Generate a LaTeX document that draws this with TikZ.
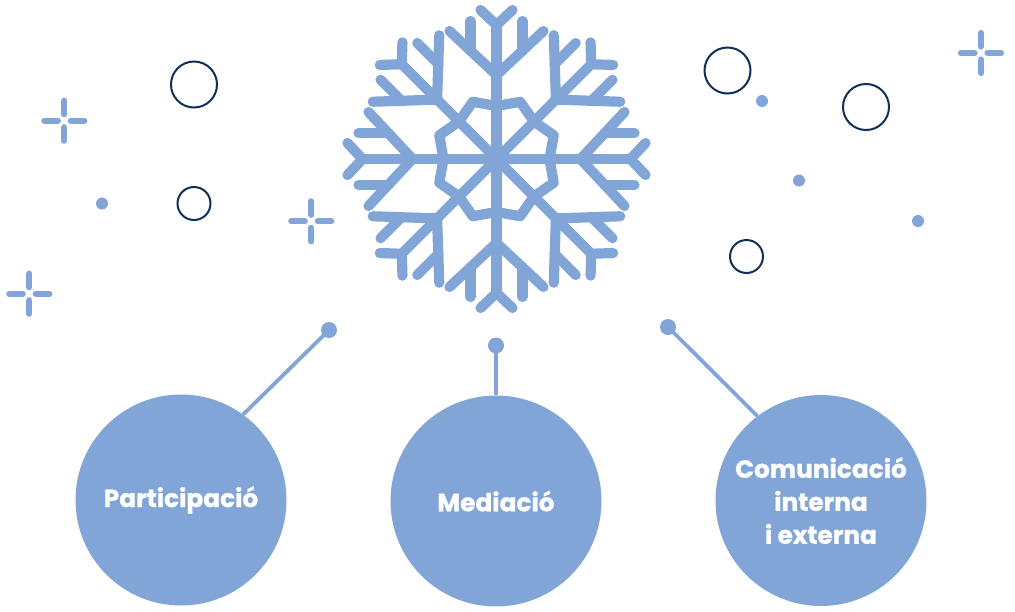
\documentclass[tikz,border=0pt]{standalone}
\usepackage{fontspec}
\setmainfont{Poppins}
\usetikzlibrary{calc}
\definecolor{flakeblue}{HTML}{82A5D7}
\definecolor{ringnavy}{HTML}{0F2F57}
\def\sparkle(#1,#2){\foreach \a in {0,90,180,270} \draw[sparkleline] ($(#1,#2)+(\a:6.5)$) -- ($(#1,#2)+(\a:20)$);}
\tikzset{
	flakeline/.style={draw=flakeblue, line width=10.2pt, line cap=round, line join=round},
	sparkleline/.style={draw=flakeblue, line width=6.2pt, line cap=round},
	ring/.style={draw=ringnavy, line width=2pt},
	speck/.style={circle, fill=flakeblue, inner sep=0pt, minimum size=12pt},
	pin/.style={circle, fill=flakeblue, inner sep=0pt, minimum size=16pt},
	pinline/.style={draw=flakeblue, line width=3.8pt},
	topic/.style={circle, fill=flakeblue, inner sep=0pt, minimum size=211pt, text=white, font=\bfseries\fontsize{24.8}{33}\selectfont\addfontfeature{FakeBold=1}, align=center}
}
\begin{document}
\begin{tikzpicture}[x=1pt, y=-1pt]
	\useasboundingbox (0, 0) rectangle (1015, 611);
	%%%%% SNOWFLAKE %%%%%
	\coordinate (flake) at (496.5, 159);
	\foreach \r in {0, 45, ..., 315} {
		\begin{scope}[shift={(flake)}, rotate=\r]
			\draw[flakeline] (0, 0) -- (0, -134);
			\draw[flakeline] (-16, -149) -- (0, -134) -- (16, -149);
			\draw[flakeline] (-47, -128) -- (0, -84) -- (47, -128);
			\draw[flakeline] (-26, -138) -- (-26, -108);
			\draw[flakeline] (26, -138) -- (26, -108);
			\draw[flakeline] (0, -53) -- (23.7, -57.2) -- (37.5, -37.5);
		\end{scope}
	}
	%%%%% LEFT SKY %%%%%
	\sparkle(64.3, 120.7)
	\sparkle(311.3, 221.3)
	\sparkle(29.3, 293.7)
	\node[speck] (specka) at (102, 203.5) {};
	\node[ring, circle, inner sep=0pt, minimum size=46pt] (ringa) at (194, 84.5) {};
	\node[ring, circle, inner sep=0pt, minimum size=33pt] (ringb) at (194, 203.5) {};
	%%%%% RIGHT SKY %%%%%
	\sparkle(981, 53)
	\node[speck] (speckb) at (762, 101) {};
	\node[speck] (speckc) at (799, 180.5) {};
	\node[speck] (speckd) at (918, 221) {};
	\node[ring, circle, inner sep=0pt, minimum size=46pt] (ringc) at (727.5, 70.5) {};
	\node[ring, circle, inner sep=0pt, minimum size=46pt] (ringd) at (866, 107) {};
	\node[ring, circle, inner sep=0pt, minimum size=33pt] (ringe) at (746.5, 256.5) {};
	%%%%% TOPICS %%%%%
	\node[topic] (participacio) at (181, 500) {\raisebox{-1pt}{Participació}};
	\node[topic] (mediacio) at (496, 501) {\raisebox{-1pt}{Mediació}};
	\node[topic] (comunicacio) at (821, 500.5) {\raisebox{-1pt}{Comunicació}\\\raisebox{-1pt}{interna}\\\raisebox{-1pt}{i externa}};
	\node[pin] (pinleft) at (329, 330) {};
	\node[pin] (pinmid) at (496, 345.5) {};
	\node[pin] (pinright) at (668, 327) {};
	\draw[pinline] (pinleft.center) -- (participacio.54);
	\draw[pinline] (pinmid.center) -- (mediacio.90);
	\draw[pinline] (pinright.center) -- (comunicacio.127);
\end{tikzpicture}
\end{document}
